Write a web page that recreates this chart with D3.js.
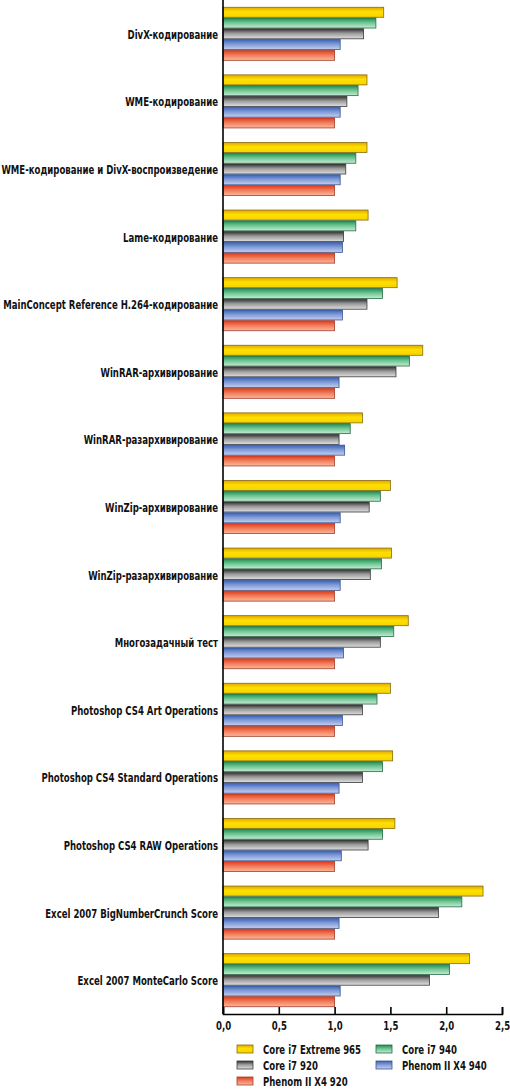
<!DOCTYPE html>
<html>
<head>
<meta charset="utf-8">
<script src="https://cdn.jsdelivr.net/npm/d3@7"></script>
<style>
  body { margin: 0; background: #fff; }
  text { font-family: 'DejaVu Sans Condensed', 'DejaVu Sans', sans-serif; font-weight: bold; fill: #111; }
</style>
</head>
<body>
<script>
let width = 510
let height = 1090

let categories = [
  'DivX-кодирование',
  'WME-кодирование',
  'WME-кодирование и DivX-воспроизведение',
  'Lame-кодирование',
  'MainConcept Reference H.264-кодирование',
  'WinRAR-архивирование',
  'WinRAR-разархивирование',
  'WinZip-архивирование',
  'WinZip-разархивирование',
  'Многозадачный тест',
  'Photoshop CS4 Art Operations',
  'Photoshop CS4 Standard Operations',
  'Photoshop CS4 RAW Operations',
  'Excel 2007 BigNumberCrunch Score',
  'Excel 2007 MonteCarlo Score'
]

let seriesNames = ['Core i7 Extreme 965', 'Core i7 940', 'Core i7 920', 'Phenom II X4 940', 'Phenom II X4 920']

let core965 = [1.44, 1.29, 1.29, 1.30, 1.56, 1.79, 1.25, 1.50, 1.51, 1.66, 1.50, 1.52, 1.54, 2.33, 2.21]
let core940 = [1.37, 1.21, 1.19, 1.19, 1.43, 1.67, 1.14, 1.41, 1.42, 1.53, 1.38, 1.43, 1.43, 2.14, 2.03]
let core920 = [1.26, 1.11, 1.10, 1.08, 1.29, 1.55, 1.04, 1.31, 1.32, 1.41, 1.25, 1.25, 1.30, 1.93, 1.85]
let phenom940 = [1.05, 1.05, 1.05, 1.07, 1.07, 1.04, 1.09, 1.05, 1.05, 1.08, 1.07, 1.04, 1.06, 1.04, 1.05]
let phenom920 = [1.00, 1.00, 1.00, 1.00, 1.00, 1.00, 1.00, 1.00, 1.00, 1.00, 1.00, 1.00, 1.00, 1.00, 1.00]

let xTicks = [0, 0.5, 1.0, 1.5, 2.0, 2.5]

let seriesValues = [core965, core940, core920, phenom940, phenom920]

// top / middle / bottom colours of each bar and its outline
let palette = [
  { id: 'g0', stops: ['#e0a800', '#ffe000', '#f5d200'], stroke: '#8a6a10' },
  { id: 'g1', stops: ['#1f8a50', '#6cc490', '#c6ecd4'], stroke: '#2a6a48' },
  { id: 'g2', stops: ['#303030', '#9a9a9a', '#e0e0e0'], stroke: '#3a3a3a' },
  { id: 'g3', stops: ['#3a62b8', '#7f9ad6', '#c3cff0'], stroke: '#3a5590' },
  { id: 'g4', stops: ['#e03a1a', '#f07a58', '#fbb89a'], stroke: '#a04030' }
]

let svg = d3.select('body')
  .append('svg')
  .attr('width', width)
  .attr('height', height)

let defs = svg.append('defs')
palette.forEach(p => {
  let g = defs.append('linearGradient')
    .attr('id', p.id)
    .attr('x1', 0).attr('y1', 0).attr('x2', 0).attr('y2', 1)
  g.append('stop').attr('offset', '0%').attr('stop-color', p.stops[0])
  g.append('stop').attr('offset', '45%').attr('stop-color', p.stops[1])
  g.append('stop').attr('offset', '100%').attr('stop-color', p.stops[2])
})

let x = d3.scaleLinear().domain([0, 2.5]).range([223, 502])

let y = d3.scaleBand()
  .domain(categories)
  .range([0, 1014])
  .paddingInner(0.215)
  .paddingOuter(0.1075)

let ySub = d3.scaleBand()
  .domain(d3.range(seriesNames.length))
  .range([0, y.bandwidth()])
  .paddingInner(0.07)

let groups = svg.selectAll('g.group')
  .data(categories)
  .enter()
  .append('g')
  .attr('class', 'group')
  .attr('transform', d => 'translate(0,' + y(d) + ')')

groups.selectAll('rect')
  .data((d, i) => seriesValues.map((s, k) => ({ k: k, v: s[i] })))
  .enter()
  .append('rect')
  .attr('x', x(0))
  .attr('y', d => ySub(d.k))
  .attr('width', d => x(d.v) - x(0))
  .attr('height', ySub.bandwidth())
  .attr('fill', d => 'url(#' + palette[d.k].id + ')')
  .attr('stroke', d => palette[d.k].stroke)
  .attr('stroke-width', 0.8)

// category labels (font is squeezed sideways to match the condensed original)
let catLabels = svg.selectAll('g.cat')
  .data(categories)
  .enter()
  .append('g')
  .attr('class', 'cat')

catLabels.append('text')
  .attr('x', 0)
  .attr('y', 0)
  .attr('text-anchor', 'end')
  .attr('dominant-baseline', 'middle')
  .attr('font-size', '13px')
  .text(d => d)

let maxW = d3.max(catLabels.selectAll('text').nodes(), n => n.getComputedTextLength())
let squeeze = 217 / maxW

catLabels.attr('transform', d => 'translate(218,' + (y(d) + y.bandwidth() / 2 + 1) + ') scale(' + squeeze + ',1)')

// vertical axis line
svg.append('line')
  .attr('x1', x(0)).attr('x2', x(0))
  .attr('y1', 0).attr('y2', 1014)
  .attr('stroke', '#000')
  .attr('stroke-width', 1.6)

// x axis
let xAxis = d3.axisTop(x)
  .tickValues(xTicks)
  .tickSize(7)
  .tickFormat(d => d3.format('.1f')(d).replace('.', ','))

let ax = svg.append('g')
  .attr('transform', 'translate(0,1014)')
  .call(xAxis)
ax.select('.domain').attr('stroke', '#000').attr('stroke-width', 1.6)
ax.selectAll('.tick line').attr('stroke', '#000').attr('stroke-width', 1.6)
ax.selectAll('.tick text')
  .attr('y', 0)
  .attr('dy', 0)
  .attr('dominant-baseline', 'middle')
  .attr('font-size', '13px')
  .attr('font-family', null)
  .attr('transform', 'translate(0,12) scale(' + squeeze + ',1)')

// legend
let legendPos = [
  [237, 1049], [376, 1049],
  [237, 1065], [376, 1065],
  [237, 1081]
]
let legend = svg.selectAll('g.legend')
  .data(seriesNames)
  .enter()
  .append('g')
  .attr('class', 'legend')
  .attr('transform', (d, i) => 'translate(' + legendPos[i][0] + ',' + legendPos[i][1] + ')')

legend.append('rect')
  .attr('x', 0)
  .attr('y', -4)
  .attr('width', 16)
  .attr('height', 8)
  .attr('fill', (d, i) => 'url(#' + palette[i].id + ')')
  .attr('stroke', (d, i) => palette[i].stroke)
  .attr('stroke-width', 0.8)

legend.append('text')
  .attr('dominant-baseline', 'middle')
  .attr('font-size', '13px')
  .attr('transform', 'translate(26,1) scale(' + squeeze + ',1)')
  .text(d => d)
</script>
</body>
</html>
